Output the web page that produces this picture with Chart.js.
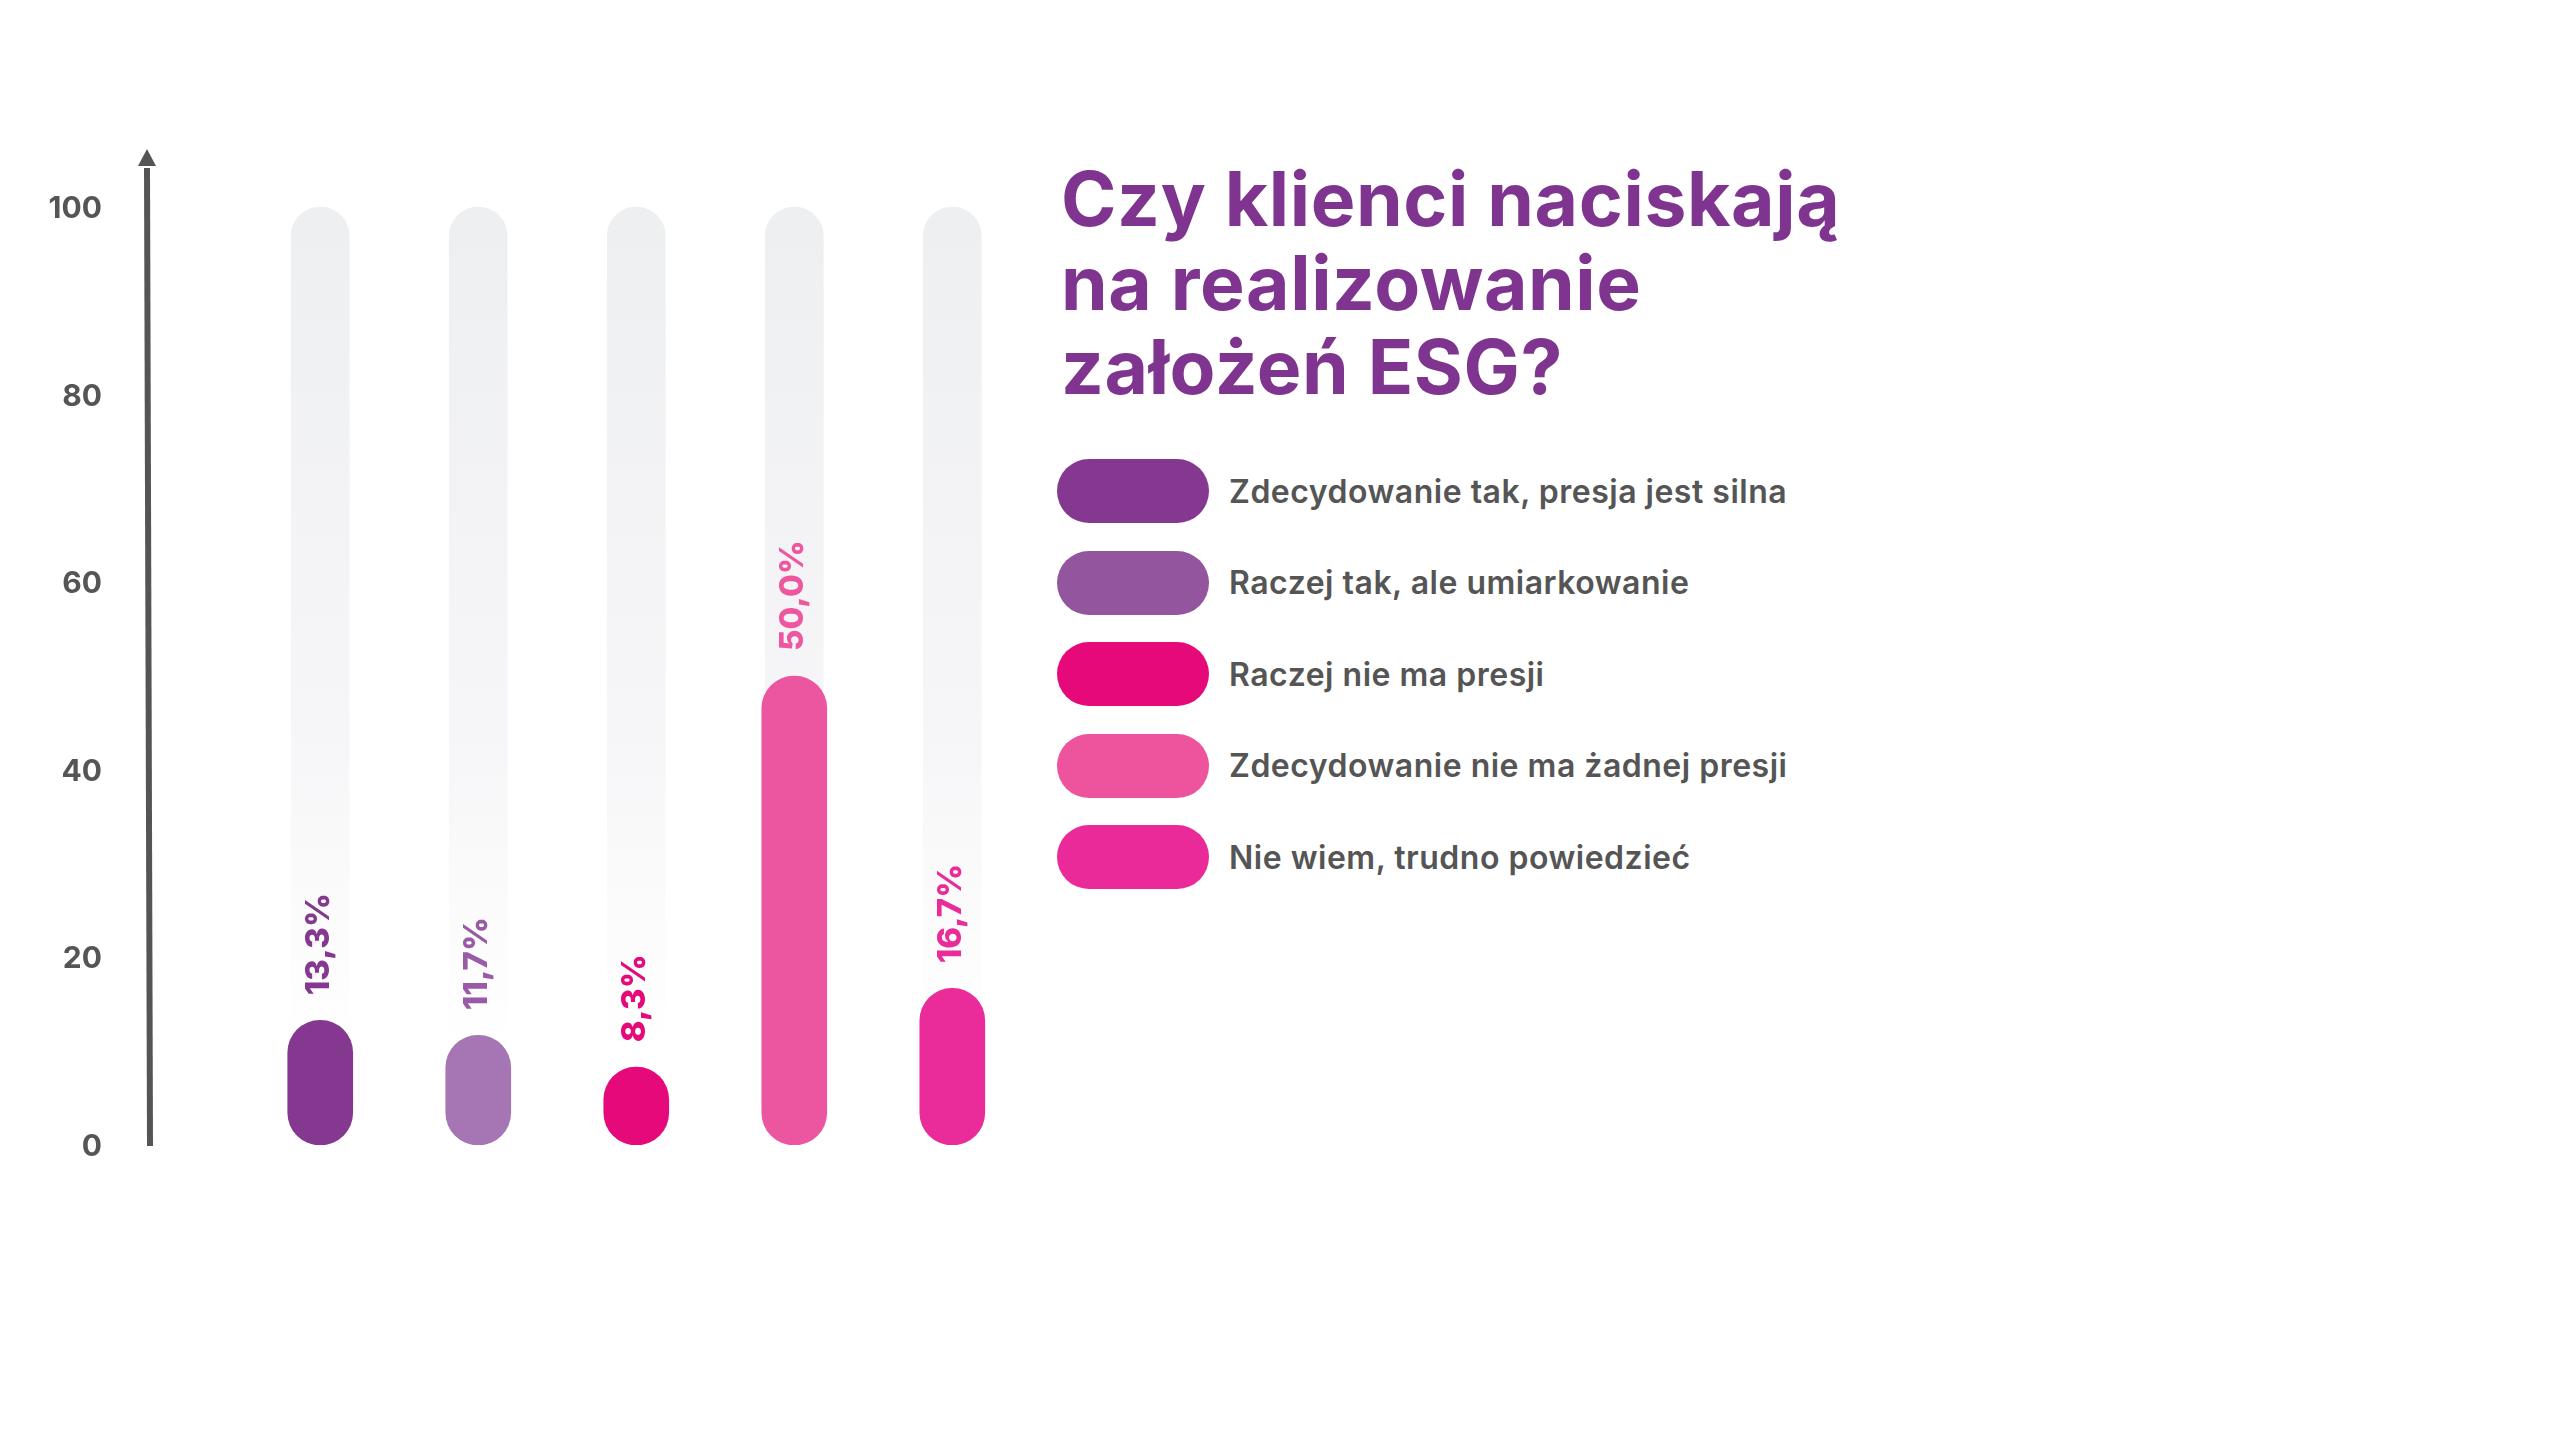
<!DOCTYPE html>
<html lang="pl">
<head>
<meta charset="utf-8">
<title>Czy klienci naciskają na realizowanie założeń ESG?</title>
<script src="https://cdn.jsdelivr.net/npm/chart.js@4.4.1/dist/chart.umd.min.js"></script>
<style>
  html, body {
    margin: 0;
    padding: 0;
    background: #ffffff;
    width: 2560px;
    height: 1431px;
    overflow: hidden;
    font-family: Inter, "Noto Sans", sans-serif;
  }

  #chartBox {
    position: absolute;
    left: 0;
    top: 0;
    width: 1040px;
    height: 1431px;
  }

  .chart-title {
    position: absolute;
    left: 1061px;
    top: 157px;
    margin: 0;
    font-size: 75px;
    line-height: 84px;
    font-weight: 700;
    color: #7f3590;
    letter-spacing: 0.6px;
  }

  .chart-legend {
    position: absolute;
    left: 1057px;
    top: 459px;
    margin: 0;
    padding: 0;
    list-style: none;
  }

  .chart-legend li {
    display: flex;
    align-items: center;
    height: 64px;
    margin-bottom: 27.5px;
  }

  .chart-legend .swatch {
    width: 152px;
    height: 64px;
    border-radius: 32px;
    flex: none;
  }

  .chart-legend .label {
    margin-left: 20px;
    font-size: 32px;
    font-weight: 600;
    color: #555555;
    letter-spacing: 0.5px;
    white-space: nowrap;
  }
</style>
</head>
<body>
<div id="chartBox">
  <canvas id="esgChart" width="1040" height="1431"></canvas>
</div>
<h1 class="chart-title" id="chartTitle"></h1>
<ul class="chart-legend" id="chartLegend"></ul>

<script>
const titleLines = ["Czy klienci naciskają", "na realizowanie", "założeń ESG?"];

const categories = [
  "Zdecydowanie tak, presja jest silna",
  "Raczej tak, ale umiarkowanie",
  "Raczej nie ma presji",
  "Zdecydowanie nie ma żadnej presji",
  "Nie wiem, trudno powiedzieć",
];

// % odpowiedzi
const shares = [13.3, 11.7, 8.3, 50.0, 16.7];

const yTicks = [0, 20, 40, 60, 80, 100];

const barColors = ["#84388f", "#a675b3", "#e5097a", "#ec55a0", "#ea2b9a"];
const labelColors = ["#84388f", "#9a5ba6", "#e5097a", "#ee579f", "#ea2b9a"];
const legendColors = ["#84388f", "#93559e", "#e5097a", "#ee549e", "#eb2a9a"];

const FONT = "Inter, 'Noto Sans', sans-serif";
const AXIS_COLOR = "#555555";

// title + legend
document.getElementById("chartTitle").innerHTML = titleLines.join("<br>");
document.getElementById("chartLegend").innerHTML = categories
  .map(
    (name, i) =>
      `<li><span class="swatch" style="background:${legendColors[i]}"></span><span class="label">${name}</span></li>`
  )
  .join("");

const yMax = yTicks[yTicks.length - 1];

function trackGradient(context) {
  const { chart } = context;
  const area = chart.chartArea;
  if (!area) return "#efeff1";
  const g = chart.ctx.createLinearGradient(0, area.top, 0, area.bottom);
  g.addColorStop(0, "#eeeff1");
  g.addColorStop(0.55, "#f6f6f8");
  g.addColorStop(0.9, "#ffffff");
  return g;
}

// arrow on the y axis
const arrowAxis = {
  id: "arrowAxis",
  afterDraw(chart) {
    const { ctx, chartArea } = chart;
    const x = chartArea.left;
    const tipY = chartArea.top - 58;
    const headY = chartArea.top - 41;
    ctx.save();
    ctx.strokeStyle = AXIS_COLOR;
    ctx.fillStyle = AXIS_COLOR;
    ctx.lineWidth = 6;
    ctx.beginPath();
    ctx.moveTo(x + 2, chartArea.bottom + 1);
    ctx.lineTo(x - 1, headY + 2);
    ctx.stroke();
    ctx.beginPath();
    ctx.moveTo(x - 1, tipY);
    ctx.lineTo(x + 8, headY);
    ctx.lineTo(x - 10, headY);
    ctx.closePath();
    ctx.fill();
    ctx.restore();
  },
};

// rotated value labels above the bars
const valueLabels = {
  id: "valueLabels",
  afterDatasetsDraw(chart) {
    const { ctx } = chart;
    const meta = chart.getDatasetMeta(1);
    ctx.save();
    ctx.font = `800 33px ${FONT}`;
    ctx.textAlign = "left";
    ctx.textBaseline = "middle";
    meta.data.forEach((bar, i) => {
      const text = shares[i].toFixed(1).replace(".", ",") + "%";
      ctx.save();
      ctx.translate(bar.x - 1, bar.y - 25);
      ctx.rotate(-Math.PI / 2);
      ctx.fillStyle = labelColors[i];
      ctx.fillText(text, 0, 0);
      ctx.restore();
    });
    ctx.restore();
  },
};

new Chart(document.getElementById("esgChart"), {
  type: "bar",
  data: {
    datasets: [
      {
        label: "track",
        data: categories.map((c, i) => ({ x: i, y: yMax })),
        backgroundColor: trackGradient,
        barThickness: 58,
        borderRadius: 29,
        borderSkipped: false,
        grouped: false,
        order: 2,
      },
      {
        label: "Odpowiedzi",
        data: shares.map((v, i) => ({ x: i, y: v })),
        backgroundColor: barColors,
        barThickness: 65,
        borderRadius: 33,
        borderSkipped: false,
        grouped: false,
        order: 1,
      },
    ],
  },
  options: {
    responsive: false,
    animation: false,
    devicePixelRatio: 1,
    layout: {
      padding: { top: 207, bottom: 286, left: 0, right: 0 },
    },
    plugins: {
      legend: { display: false },
      tooltip: { enabled: false },
      title: { display: false },
    },
    scales: {
      x: {
        type: "linear",
        display: false,
        offset: false,
        min: -1.09,
        max: 4.555,
      },
      y: {
        min: 0,
        max: yMax,
        afterFit(scale) {
          scale.width = 148;
        },
        afterBuildTicks(scale) {
          scale.ticks = yTicks.map((v) => ({ value: v }));
        },
        grid: { display: false, drawTicks: false },
        border: { display: false },
        ticks: {
          padding: 46,
          labelOffset: 2,
          color: AXIS_COLOR,
          font: { family: FONT, size: 30, weight: "700" },
        },
      },
    },
  },
  plugins: [arrowAxis, valueLabels],
});
</script>
</body>
</html>
